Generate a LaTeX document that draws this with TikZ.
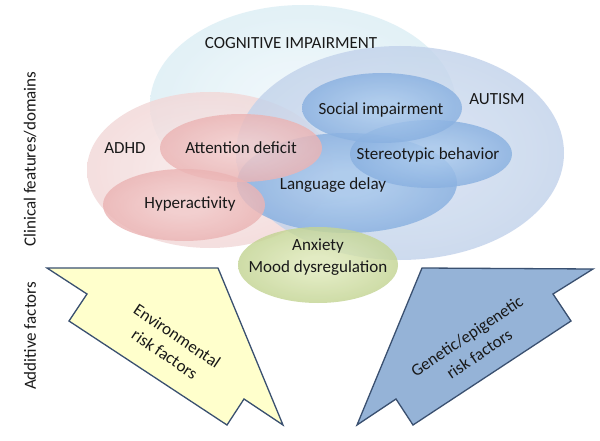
\documentclass[tikz,border=0pt]{standalone}
\usepackage{fontspec}
\setmainfont{Carlito}
\pgfdeclareradialshading[ci,co]{soft}{\pgfpoint{0bp}{0bp}}{color(0bp)=(ci); color(6bp)=(ci); color(48bp)=(co); color(50bp)=(co)}
\definecolor{cogIn}{RGB}{236,246,250}
\definecolor{cogOut}{RGB}{200,228,238}
\definecolor{autIn}{RGB}{210,222,240}
\definecolor{autOut}{RGB}{176,198,228}
\definecolor{adhdIn}{RGB}{247,230,230}
\definecolor{adhdOut}{RGB}{236,198,198}
\definecolor{redIn}{RGB}{242,203,203}
\definecolor{redOut}{RGB}{226,152,152}
\definecolor{bluIn}{RGB}{168,200,236}
\definecolor{bluOut}{RGB}{100,148,210}
\definecolor{grnIn}{RGB}{220,231,182}
\definecolor{grnOut}{RGB}{166,190,106}
\definecolor{yelFill}{RGB}{255,255,204}
\definecolor{bluFill}{RGB}{149,179,215}
\definecolor{edge}{RGB}{58,80,112}
\definecolor{ink}{RGB}{25,25,25}
\begin{document}
\begin{tikzpicture}[x=1pt,y=-1pt,
  blob/.style n args={2}{/utils/exec={\colorlet{ci}{#1}\colorlet{co}{#2}}, shading=soft, opacity=0.82},
  lbl/.style={text=ink, inner sep=0pt, font=\fontsize{17}{22}\selectfont},
  side/.style={text=ink, inner sep=0pt, font=\fontsize{17}{20}\selectfont, rotate=90},
  bigarrow/.style={draw=edge, line width=1.3pt, line join=miter}]
\useasboundingbox (0,0) rectangle (600,441);
\fill[white] (0,0) rectangle (600,441);
% domains
\shade[blob={cogIn}{cogOut}] (303,105) ellipse [x radius=153pt, y radius=100pt];
\shade[blob={adhdIn}{adhdOut}] (210,170) ellipse [x radius=123pt, y radius=78pt];
\shade[blob={autIn}{autOut}] (400,153) ellipse [x radius=164pt, y radius=107pt];
% features
\shade[blob={bluIn}{bluOut}] (347,183) ellipse [x radius=110pt, y radius=50pt];
\shade[blob={bluIn}{bluOut}] (431,154) ellipse [x radius=81pt, y radius=34pt];
\shade[blob={bluIn}{bluOut}] (382,108) ellipse [x radius=80pt, y radius=35pt];
\shade[blob={redIn}{redOut}] (241,148) ellipse [x radius=81pt, y radius=34pt];
\shade[blob={redIn}{redOut}] (184,205) ellipse [x radius=81pt, y radius=36pt];
\shade[blob={grnIn}{grnOut}] (318,265) ellipse [x radius=80pt, y radius=38pt];
% additive factor arrows
\draw[bigarrow, fill=yelFill] (47,268) -- (218,268) -- (283,425) -- (244,399) -- (227,425) -- (69,321) -- (87,294) -- cycle;
\draw[bigarrow, fill=bluFill] (593,269) -- (422,268) -- (357,425) -- (396,399) -- (413,425) -- (571,321) -- (553,294) -- cycle;
% labels
\node[lbl] (cog) at (291,43) {COGNITIVE IMPAIRMENT};
\node[lbl] (aut) at (497,99) {AUTISM};
\node[lbl] (adhd) at (125,148) {ADHD};
\node[lbl] (att) at (241,148) {Attention deficit};
\node[lbl] (soc) at (381,110) {Social impairment};
\node[lbl] (ste) at (428,155) {Stereotypic behavior};
\node[lbl] (lang) at (333,185) {Language delay};
\node[lbl] (hyp) at (190,204) {Hyperactivity};
\node[lbl, align=center] (anx) at (318,257) {Anxiety\\Mood dysregulation};
\node[lbl, align=center, rotate=-34] (env) at (171,345) {Environmental\\risk factors};
\node[lbl, align=center, rotate=34] (gen) at (473,345) {Genetic/epigenetic\\risk factors};
\node[side] (clin) at (30,159) {Clinical features/domains};
\node[side] (add) at (30,336) {Additive factors};
\end{tikzpicture}
\end{document}
